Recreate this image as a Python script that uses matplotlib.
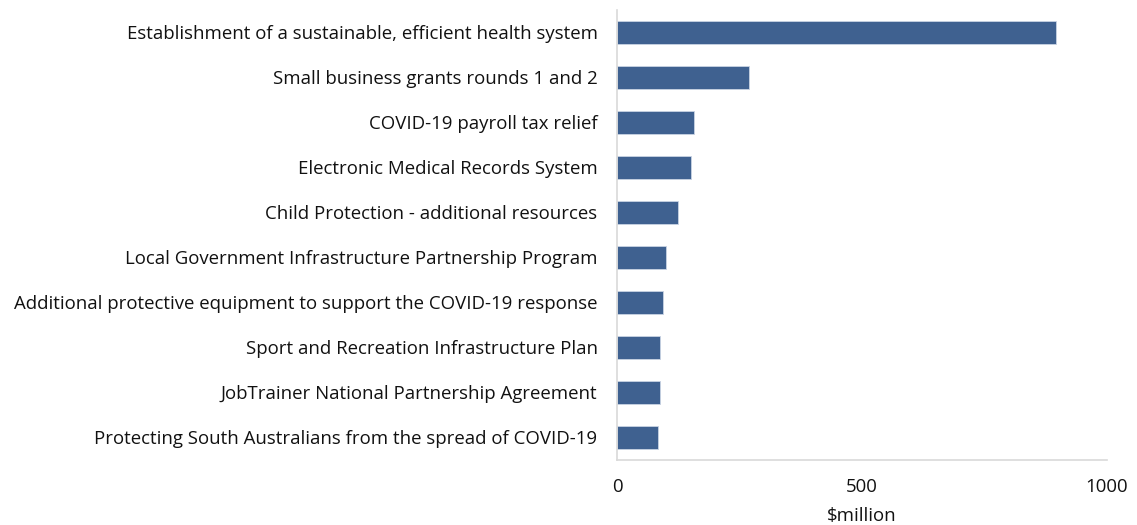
import matplotlib.pyplot as plt

# spending measures, $million
measures = [
    "Establishment of a sustainable, efficient health system",
    "Small business grants rounds 1 and 2",
    "COVID-19 payroll tax relief",
    "Electronic Medical Records System",
    "Child Protection - additional resources",
    "Local Government Infrastructure Partnership Program",
    "Additional protective equipment to support the COVID-19 response",
    "Sport and Recreation Infrastructure Plan",
    "JobTrainer National Partnership Agreement",
    "Protecting South Australians from the spread of COVID-19",
]
amounts = [896, 269, 158, 150, 125, 100, 93, 88, 88, 84]
x_ticks = [0, 500, 1000]

plt.rcParams['font.family'] = ['Open Sans', 'DejaVu Sans']

fig = plt.figure(figsize=(11.37, 5.25), dpi=100)
ax = fig.add_axes([617 / 1137, 65 / 525, 490 / 1137, 450 / 525])

ax.barh(range(len(measures)), amounts, height=0.5, color="#3F6190",
        edgecolor="#C9D3E3", linewidth=0.6)

ax.set_xlim(0, 1000)
ax.set_ylim(len(measures) - 0.5, -0.5)
ax.set_yticks(range(len(measures)))
ax.set_yticklabels(measures, fontsize=13.4, color="#111111")
ax.set_xticks(x_ticks)
ax.set_xticklabels([str(t) for t in x_ticks], fontsize=13.4, color="#111111")
ax.tick_params(axis="y", length=0, pad=14)
ax.tick_params(axis="x", length=0, pad=13)
ax.set_xlabel("$million", fontsize=13.4, color="#111111", labelpad=8)

for side in ["top", "right"]:
    ax.spines[side].set_visible(False)
for side in ["left", "bottom"]:
    ax.spines[side].set_color("#D9D9D9")
    ax.spines[side].set_linewidth(1.2)

fig.savefig("out.png", dpi=100)
